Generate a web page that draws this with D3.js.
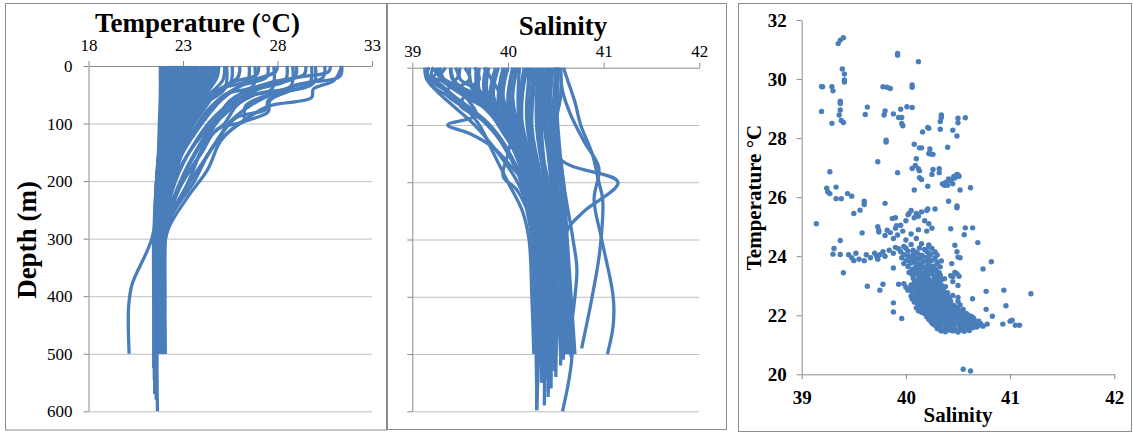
<!DOCTYPE html>
<html>
<head>
<meta charset="utf-8">
<script src="https://cdn.jsdelivr.net/npm/d3@7"></script>
<style>
  body { margin: 0; background: #fff; }
  svg { display: block; }
  svg text { font-family: 'Liberation Serif', 'Times New Roman', serif; }
</style>
</head>
<body>
<svg id="chart"></svg>
<script>
// ---- data ----
const depthTicks = [0, 100, 200, 300, 400, 500, 600];
const tempTicks = [18, 23, 28, 33];
const salTicks = [39, 40, 41, 42];
const tsTempTicks = [20, 22, 24, 26, 28, 30, 32];

// temperature profiles: [depth m, temperature °C]
const tempProfiles = [
  [[0,21.8],[50,21.8],[100,21.75],[150,21.7],[200,21.6],[300,21.55],[400,21.55],[500,21.55]],
  [[0,21.9],[50,21.85],[100,21.8],[150,21.72],[200,21.62],[300,21.55],[400,21.55],[510,21.55]],
  [[0,22.0],[50,21.95],[100,21.85],[150,21.75],[200,21.65],[300,21.6],[400,21.6],[520,21.6]],
  [[0,22.15],[50,22.05],[100,21.9],[150,21.78],[200,21.68],[300,21.6],[400,21.6],[500,21.6]],
  [[0,22.2],[50,22.1],[100,21.95],[150,21.8],[200,21.7],[300,21.65],[400,21.6],[500,21.6]],
  [[0,22.35],[50,22.25],[100,22.05],[150,21.85],[200,21.72],[300,21.62],[400,21.62],[500,21.62]],
  [[0,22.4],[50,22.3],[100,22.1],[150,21.9],[200,21.75],[300,21.7],[400,21.65],[560,21.6]],
  [[0,22.55],[50,22.45],[100,22.2],[150,21.95],[200,21.78],[300,21.68],[400,21.68],[500,21.68]],
  [[0,22.6],[50,22.5],[100,22.2],[150,22.0],[200,21.8],[300,21.7],[400,21.7],[500,21.7]],
  [[0,22.75],[50,22.6],[100,22.3],[150,22.05],[200,21.85],[300,21.72],[400,21.7],[500,21.7]],
  [[0,22.8],[50,22.6],[100,22.35],[150,22.1],[200,21.9],[300,21.75],[400,21.7],[500,21.7]],
  [[0,22.95],[40,22.85],[100,22.45],[150,22.15],[200,21.9],[300,21.75],[400,21.72],[500,21.72]],
  [[0,23.0],[40,22.9],[100,22.5],[150,22.2],[200,21.95],[300,21.8],[400,21.75],[500,21.75]],
  [[0,23.15],[40,23.05],[100,22.55],[150,22.25],[200,21.98],[300,21.78],[400,21.76],[500,21.76]],
  [[0,23.2],[40,23.1],[100,22.6],[150,22.3],[200,22.0],[300,21.8],[400,21.8],[500,21.8]],
  [[0,23.35],[40,23.2],[90,22.85],[140,22.45],[200,22.05],[300,21.82],[400,21.8],[500,21.8]],
  [[0,23.4],[40,23.3],[80,23.0],[120,22.6],[200,22.1],[300,21.85],[400,21.8],[500,21.8]],
  [[0,23.55],[30,23.45],[80,23.05],[130,22.6],[200,22.12],[300,21.88],[400,21.85],[500,21.85]],
  [[0,23.6],[30,23.5],[80,23.1],[130,22.7],[200,22.2],[300,21.9],[400,21.85],[500,21.85]],
  [[0,23.75],[30,23.65],[70,23.25],[120,22.75],[200,22.18],[300,21.9],[400,21.88],[500,21.88]],
  [[0,23.8],[30,23.7],[70,23.3],[120,22.8],[200,22.2],[300,21.9],[400,21.9],[500,21.9]],
  [[0,23.95],[30,23.85],[70,23.4],[120,22.85],[200,22.25],[300,21.95],[400,21.9],[500,21.9]],
  [[0,24.0],[30,23.9],[70,23.4],[120,22.9],[200,22.3],[300,21.95],[400,21.95],[500,21.95]],
  [[0,24.15],[25,24.05],[60,23.5],[110,22.95],[200,22.3],[300,21.98],[400,21.95],[500,21.95]],
  [[0,24.3],[25,24.2],[60,23.6],[110,23.0],[200,22.3],[300,22.0],[400,22.0],[500,22.05]],
  [[0,24.45],[25,24.35],[60,23.7],[110,23.05],[200,22.35],[300,22.0],[400,21.98],[500,21.98]],
  [[0,24.6],[25,24.5],[60,23.8],[110,23.1],[200,22.4],[300,22.0],[400,22.0],[500,22.05]],
  [[0,24.75],[20,24.65],[60,23.9],[120,23.15],[200,22.4],[300,22.0],[400,22.0],[500,22.0]],
  [[0,21.9],[100,21.8],[200,21.65],[300,21.5],[400,21.5],[570,21.5]],
  [[0,22.05],[100,21.85],[200,21.6],[300,21.48],[400,21.48],[545,21.48]],
  [[0,22.1],[100,21.9],[200,21.6],[300,21.45],[400,21.45],[525,21.45]],
  [[0,22.3],[100,22.0],[200,21.6],[300,21.5],[400,21.55],[600,21.65]],
  [[0,22.45],[100,22.1],[200,21.65],[300,21.52],[400,21.52],[580,21.58]],
  [[0,22.5],[100,22.15],[200,21.7],[300,21.55],[400,21.55],[565,21.55]],
  [[0,22.7],[100,22.3],[200,21.8],[300,21.6],[400,21.6],[500,21.6]],
  [[0,22.9],[100,22.4],[200,21.85],[300,21.65],[400,21.65],[500,21.65]],
  [[0,23.1],[100,22.7],[200,22.0],[300,21.75],[400,21.7],[500,21.7]],
  [[0,23.3],[100,22.8],[200,22.05],[300,21.8],[400,21.75],[500,21.75]],
  [[0,23.5],[100,22.9],[200,22.15],[300,21.85],[400,21.8],[500,21.8]],
  [[0,23.7],[100,23.0],[200,22.2],[300,21.9],[400,21.85],[500,21.85]],
  [[0,24.9],[20,24.8],[60,24.0],[120,23.2],[200,22.4],[300,22.0],[400,22.0],[500,22.0]],
  [[0,25.2],[25,25.1],[60,24.1],[120,23.3],[200,22.5],[280,22.1],[400,22.05],[500,22.05]],
  [[0,22.6],[50,22.4],[100,22.1],[200,21.8],[300,21.35],[380,20.3],[420,20.12],[500,20.15]],
  [[0,31.4],[18,31.3],[30,29.5],[45,28.0],[70,26.5],[100,25.4],[130,24.8],[170,24.0],[220,23.0],[280,22.1],[350,21.8],[500,21.75]],
  [[0,31.4],[25,31.0],[40,29.9],[55,29.8],[70,27.5],[100,26.0],[140,24.6],[200,23.6],[260,22.4],[320,21.8],[500,21.7]],
  [[0,30.5],[20,30.4],[35,28.8],[60,27.5],[75,27.4],[90,25.8],[120,25.0],[160,24.2],[210,23.2],[270,22.2],[350,21.8],[500,21.7]],
  [[0,30.0],[30,29.9],[50,27.5],[70,26.3],[95,26.2],[110,24.8],[150,24.0],[200,23.0],[260,22.3],[350,21.9],[500,21.8]],
  [[0,29.5],[15,29.4],[30,27.5],[60,26.0],[100,24.7],[150,23.7],[200,22.9],[260,22.2],[350,21.9],[500,21.8]],
  [[0,29.0],[20,28.9],[40,27.0],[70,25.8],[100,25.2],[120,24.5],[170,23.6],[230,22.5],[300,22.0],[500,21.9]],
  [[0,28.5],[25,28.4],[45,26.5],[80,25.2],[120,24.0],[180,22.8],[250,22.1],[500,21.8]],
  [[0,28.0],[10,27.9],[30,26.3],[60,25.0],[100,24.0],[150,23.0],[200,22.3],[300,21.9],[500,21.8]],
  [[0,27.5],[20,27.4],[35,26.0],[70,24.5],[110,23.6],[160,22.8],[220,22.1],[300,21.8],[500,21.75]],
  [[0,27.0],[15,26.9],[30,25.5],[60,24.3],[110,23.3],[170,22.5],[250,21.9],[500,21.7]],
  [[0,26.5],[25,26.4],[40,25.0],[80,24.0],[130,23.0],[200,22.2],[300,21.8],[500,21.7]],
  [[0,26.0],[20,25.9],[50,24.5],[100,23.5],[150,22.7],[220,22.0],[300,21.8],[500,21.7]],
  [[0,25.6],[30,25.5],[60,24.3],[110,23.3],[180,22.4],[260,21.9],[500,21.7]],
  [[0,30.8],[10,30.7],[20,29.0],[35,27.0],[60,25.5],[90,24.8],[130,24.0],[190,23.0],[260,22.2],[330,21.9],[500,21.8]],
  [[0,29.8],[30,29.7],[45,28.5],[60,27.6],[80,27.5],[100,26.0],[130,25.0],[180,24.3],[230,23.2],[285,22.2],[350,21.9],[500,21.8]],
  [[0,27.8],[40,27.7],[55,26.0],[90,24.6],[140,23.5],[200,22.6],[280,22.0],[500,21.8]],
  [[0,26.8],[35,26.7],[50,25.2],[100,23.8],[160,22.8],[240,22.0],[500,21.7]],
  [[0,25.3],[40,25.2],[70,24.0],[120,23.2],[180,22.4],[260,21.9],[500,21.7]],
  [[0,28.8],[35,28.7],[50,26.8],[90,25.0],[130,24.2],[200,23.3],[260,22.4],[320,21.9],[500,21.8]]
];

// salinity profiles: [depth m, salinity]
const salProfiles = [
  [[0,40.55],[50,40.55],[100,40.5],[200,40.55],[300,40.6],[400,40.65],[500,40.68]],
  [[0,40.53],[100,40.48],[200,40.52],[300,40.58],[400,40.62],[500,40.64]],
  [[0,40.5],[50,40.48],[100,40.45],[200,40.5],[300,40.55],[400,40.6],[500,40.62]],
  [[0,40.47],[100,40.43],[200,40.47],[300,40.52],[400,40.57],[510,40.58]],
  [[0,40.45],[100,40.4],[200,40.45],[300,40.5],[400,40.55],[520,40.55]],
  [[0,40.43],[100,40.45],[200,40.5],[300,40.58],[400,40.64],[505,40.66]],
  [[0,40.4],[100,40.35],[200,40.4],[300,40.45],[400,40.5],[540,40.5]],
  [[0,40.37],[100,40.33],[200,40.4],[300,40.45],[400,40.48],[530,40.48]],
  [[0,40.35],[100,40.3],[200,40.38],[300,40.42],[400,40.45],[560,40.45]],
  [[0,40.3],[100,40.25],[200,40.35],[300,40.4],[400,40.42],[575,40.42]],
  [[0,40.27],[100,40.23],[200,40.33],[300,40.4],[400,40.43],[500,40.43]],
  [[0,40.25],[50,40.2],[100,40.2],[200,40.3],[300,40.38],[400,40.4],[500,40.4]],
  [[0,40.2],[50,40.15],[100,40.15],[200,40.28],[300,40.35],[400,40.38],[590,40.38]],
  [[0,40.17],[60,40.12],[100,40.15],[200,40.3],[300,40.38],[400,40.42],[565,40.42]],
  [[0,40.1],[50,40.05],[100,40.1],[200,40.25],[300,40.33],[400,40.36],[550,40.36]],
  [[0,40.07],[50,40.02],[100,40.08],[200,40.27],[300,40.36],[400,40.4],[500,40.42]],
  [[0,40.0],[50,39.95],[100,40.05],[200,40.22],[300,40.3],[400,40.33],[598,40.3]],
  [[0,39.97],[50,39.92],[100,40.02],[200,40.24],[300,40.34],[400,40.4],[545,40.4]],
  [[0,39.9],[50,39.85],[100,40.0],[200,40.2],[300,40.3],[400,40.35],[520,40.35]],
  [[0,39.87],[50,39.82],[100,39.98],[200,40.23],[300,40.33],[400,40.38],[500,40.38]],
  [[0,39.8],[40,39.78],[100,39.95],[200,40.22],[300,40.32],[400,40.38],[500,40.4]],
  [[0,39.77],[40,39.75],[100,39.93],[200,40.23],[300,40.34],[400,40.4],[500,40.42]],
  [[0,39.7],[40,39.7],[100,39.9],[200,40.25],[300,40.35],[400,40.4],[540,40.42]],
  [[0,39.67],[40,39.68],[100,39.9],[200,40.26],[300,40.37],[400,40.43],[500,40.45]],
  [[0,40.52],[100,40.5],[200,40.58],[300,40.62],[400,40.66],[500,40.7]],
  [[0,40.42],[100,40.38],[200,40.48],[300,40.55],[400,40.58],[500,40.6]],
  [[0,40.32],[100,40.3],[200,40.42],[300,40.48],[400,40.52],[500,40.55]],
  [[0,40.22],[100,40.22],[200,40.35],[300,40.45],[400,40.62],[500,40.67],[600,40.57]],
  [[0,40.12],[100,40.12],[200,40.3],[300,40.42],[400,40.46],[500,40.48]],
  [[0,39.95],[60,39.9],[100,40.0],[200,40.25],[300,40.38],[400,40.44],[500,40.46]],
  [[0,40.05],[60,40.0],[100,40.08],[200,40.3],[300,40.4],[400,40.48],[500,40.5]],
  [[0,39.13],[20,39.15],[40,39.25],[70,39.45],[100,39.65],[150,39.9],[200,40.1],[250,40.22],[300,40.28],[400,40.3],[500,40.3],[598,40.3]],
  [[0,39.15],[30,39.2],[60,39.5],[90,39.75],[130,39.95],[180,40.1],[250,40.2],[300,40.25],[400,40.28],[560,40.3]],
  [[0,39.4],[30,39.45],[60,39.6],[83,39.67],[100,39.37],[115,39.6],[140,39.85],[170,40.02],[220,40.26],[300,40.4],[400,40.45],[500,40.47]],
  [[0,39.25],[20,39.3],[50,39.55],[80,39.85],[120,40.05],[180,40.2],[250,40.3],[300,40.35],[400,40.38],[500,40.4]],
  [[0,39.3],[15,39.28],[40,39.5],[70,39.75],[110,39.95],[160,40.1],[220,40.2],[300,40.3],[400,40.35],[550,40.35]],
  [[0,39.4],[20,39.42],[50,39.65],[90,39.9],[150,40.1],[200,40.2],[300,40.3],[400,40.35],[500,40.38]],
  [[0,39.5],[20,39.5],[40,39.7],[80,39.95],[130,40.15],[200,40.28],[300,40.35],[500,40.4]],
  [[0,39.6],[30,39.62],[60,39.8],[100,40.0],[150,40.15],[200,40.3],[300,40.4],[500,40.45]],
  [[0,39.18],[10,39.15],[30,39.3],[60,39.5],[100,39.7],[150,39.85],[200,40.0],[250,40.15],[300,40.22],[400,40.25],[500,40.27]],
  [[0,39.75],[40,39.9],[100,40.05],[150,40.0],[190,39.95],[215,40.1],[300,40.3],[400,40.38],[500,40.4]],
  [[0,39.2],[10,39.25],[20,39.18],[40,39.35],[70,39.6],[110,39.85],[160,40.05],[220,40.22],[300,40.32],[400,40.36],[500,40.38]],
  [[0,39.22],[15,39.2],[30,39.4],[45,39.35],[70,39.55],[100,39.8],[150,40.0],[220,40.2],[300,40.3],[500,40.36]],
  [[0,39.45],[15,39.48],[30,39.42],[55,39.7],[90,39.88],[140,40.05],[200,40.22],[300,40.35],[500,40.42]],
  [[0,39.65],[20,39.7],[35,39.62],[60,39.85],[100,40.0],[160,40.15],[220,40.28],[300,40.38],[500,40.45]],
  [[0,39.28],[25,39.35],[45,39.55],[65,39.5],[90,39.72],[130,39.93],[190,40.12],[260,40.25],[400,40.33],[500,40.35]],
  [[0,39.35],[15,39.3],[30,39.45],[50,39.7],[80,39.9],[120,40.1],[200,40.3],[300,40.4],[400,40.45],[500,40.48]],
  [[0,39.55],[20,39.6],[35,39.5],[60,39.75],[100,40.05],[160,40.2],[250,40.35],[400,40.42],[500,40.45]],
  [[0,40.5],[50,40.52],[100,40.5],[160,40.55],[200,41.15],[250,40.8],[280,40.63],[300,40.6],[400,40.62],[500,40.65]],
  [[0,40.58],[20,40.62],[60,40.7],[100,40.76],[150,40.88],[200,40.95],[230,40.99],[320,40.96],[400,40.88],[490,40.77]],
  [[0,40.55],[40,40.57],[80,40.65],[130,40.8],[175,40.95],[230,40.9],[300,40.98],[400,41.1],[450,41.1],[500,41.04]],
  [[0,40.5],[100,40.52],[200,40.58],[300,40.68],[350,40.72],[400,40.7],[500,40.62]]
];

// T-S scatter: [salinity, temperature]
const tsPoints = [
  [39.40,31.40],[39.37,31.32],[39.35,31.2],[39.39,30.34],[39.41,30.17],[39.41,29.97],[39.41,29.9],
  [39.2,29.74],[39.19,29.75],[39.29,29.74],[39.30,29.6],[39.19,28.9],[39.37,29.25],[39.37,29.17],
  [39.37,28.95],[39.36,28.78],[39.38,28.6],[39.4,28.53],[39.29,28.5],[39.92,30.87],[39.92,30.81],
  [40.12,30.59],[40.06,29.8],[40.06,29.72],[39.78,29.74],[39.82,29.72],[39.85,29.68],[39.63,29.05],
  [40.01,29.06],[40.06,29.04],[39.8,28.92],[39.79,28.78],[39.61,28.8],[39.88,28.82],[39.95,28.98],
  [39.93,28.7],[39.96,28.7],[39.96,28.5],[39.97,28.42],[39.81,27.93],[39.81,27.87],[40.34,28.78],
  [40.34,28.7],[40.33,28.56],[40.50,28.67],[40.50,28.52],[40.57,28.69],[40.21,28.36],[40.22,28.33],
  [40.16,28.21],[40.45,28.27],[40.33,28.3],[40.49,28.07],[40.08,27.79],[40.13,27.67],[40.15,27.67],
  [40.23,27.63],[40.22,27.48],[40.24,27.46],[40.26,27.45],[40.40,27.69],[40.10,27.3],[39.73,27.2],
  [40.09,27.07],[40.12,26.96],[40.13,26.89],[40.06,26.97],[40.26,26.94],[40.25,26.77],[40.32,26.96],
  [40.32,26.83],[39.92,26.83],[40.13,26.66],[40.15,26.6],[40.21,26.37],[40.08,26.24],[40.49,26.77],
  [40.51,26.71],[40.52,26.24],[40.62,26.32],[40.41,25.86],[40.49,25.7],[40.49,25.64],
  [40.35,26.45],[40.38,26.5],[40.4,26.4],[40.42,26.55],[40.44,26.6],[40.45,26.45],[40.47,26.65],
  [40.48,26.7],[40.5,26.75],[40.46,26.7],[40.41,26.62],[40.37,26.4],
  [39.27,26.86],[39.24,26.3],[39.25,26.18],[39.27,26.12],[39.33,26.34],[39.33,25.95],[39.38,25.95],
  [39.44,26.12],[39.48,26.03],[39.14,25.1],[39.60,25.86],[39.60,25.75],[39.56,25.56],[39.50,25.45],
  [39.8,25.79],[39.58,24.79],[39.37,24.53],[39.30,24.07],[39.31,24.26],[39.37,24.06],[39.40,23.44],
  [39.45,24.05],[39.48,23.95],[39.5,23.85],[39.52,24.1],[39.55,23.9],[39.6,23.85],[39.62,24.05],
  [39.66,23.95],[39.7,24.1],[39.72,24.0],[39.75,24.05],[39.73,23.9],[39.78,24.15],[39.8,24.0],
  [39.84,24.2],[39.88,24.1],[39.9,24.3],[39.88,23.6],
  [39.73,25.0],[39.74,24.88],[39.74,24.82],[39.8,24.7],[39.82,24.88],[39.85,24.8],[39.88,24.6],
  [39.92,24.72],[39.9,24.95],[39.95,25.05],[40.0,25.2],[39.87,25.28],[39.9,25.3],[39.91,25.03],
  [40.0,24.55],[40.1,24.6],[40.05,24.75],[39.97,24.85],[40.12,24.9],[40.2,24.85],[40.25,24.95],
  [40.22,25.1],[40.18,25.2],[40.08,25.3],[40.03,25.45],[40.05,25.55],[40.1,25.45],[40.15,25.5],
  [40.2,25.55],[40.21,25.6],[40.28,25.6],[40.12,25.35],[40.02,25.4],
  [40.43,24.93],[40.57,24.96],[40.64,24.96],[40.56,24.73],[40.69,24.46],[40.47,24.37],[40.49,24.15],
  [40.44,23.75],[40.5,23.97],[40.74,23.57],[40.82,23.81],[40.49,23.41],[40.51,23.32],[40.94,22.85],
  [40.96,22.32],[40.77,22.81],[40.77,22.2],[41.2,22.73],[40.83,21.97],[40.64,22.56],[40.5,23.01],
  [40.5,22.47],[41.0,21.8],[41.02,21.83],[41.05,21.66],[41.09,21.66],[40.93,21.7],[40.74,21.63],
  [40.78,21.7],[40.55,20.17],[40.62,20.11],[39.63,22.98],[39.75,22.85],[39.78,23.05],[39.88,22.42],
  [39.88,22.11],[39.96,21.89],[40.45,23.3],[40.47,23.45],[40.52,23.95],[40.52,22.35],[40.55,22.2],
  [40.6,22.0],[40.65,21.9],[40.7,21.8],[40.72,21.7],[40.68,21.6],[40.5,22.6],
  [40.38,21.44],[40.45,21.47],[40.5,21.43],[40.56,21.46],[40.61,21.48],
  [40.3,21.55],[40.36,21.53],[40.41,21.57],[40.47,21.54],[40.52,21.56],[40.58,21.52],[40.64,21.58],
  [40.28,21.66],[40.33,21.63],[40.4,21.67],[40.45,21.64],[40.51,21.66],[40.56,21.62],[40.62,21.67],[40.69,21.64],
  [40.25,21.75],[40.31,21.77],[40.37,21.73],[40.43,21.76],[40.48,21.74],[40.54,21.78],[40.6,21.73],[40.66,21.76],
  [40.22,21.86],[40.29,21.84],[40.35,21.87],[40.41,21.83],[40.47,21.86],[40.53,21.84],[40.59,21.88],[40.64,21.85],
  [40.2,21.95],[40.27,21.97],[40.33,21.93],[40.39,21.96],[40.45,21.94],[40.51,21.97],[40.57,21.93],[40.63,21.96],
  [40.18,22.05],[40.25,22.03],[40.31,22.07],[40.37,22.04],[40.43,22.06],[40.49,22.03],[40.55,22.07],
  [40.12,22.15],[40.2,22.17],[40.28,22.13],[40.35,22.16],[40.41,22.14],[40.47,22.17],[40.52,22.13],
  [40.1,22.25],[40.17,22.23],[40.25,22.27],[40.32,22.24],[40.38,22.26],[40.44,22.23],[40.5,22.27],
  [40.12,22.35],[40.2,22.33],[40.27,22.37],[40.34,22.34],[40.4,22.36],[40.46,22.33],
  [40.08,22.45],[40.15,22.47],[40.23,22.43],[40.3,22.46],[40.37,22.44],[40.43,22.47],
  [40.06,22.55],[40.12,22.53],[40.2,22.57],[40.28,22.54],[40.35,22.56],[40.42,22.53],
  [40.05,22.65],[40.14,22.67],[40.22,22.63],[40.3,22.66],[40.38,22.64],[40.45,22.67],
  [40.08,22.75],[40.17,22.73],[40.25,22.77],[40.33,22.74],[40.4,22.76],
  [40.02,22.85],[40.1,22.87],[40.2,22.83],[40.28,22.86],[40.36,22.84],
  [40.0,22.95],[40.07,22.97],[40.15,22.93],[40.23,22.96],[40.31,22.94],[40.38,22.97],
  [39.93,23.05],[39.98,23.07],[40.05,23.03],[40.12,23.06],[40.2,23.04],[40.27,23.07],[40.34,23.03],
  [40.1,23.15],[40.18,23.17],[40.25,23.13],[40.32,23.16],[40.45,23.14],
  [40.07,23.25],[40.15,23.27],[40.22,23.23],[40.3,23.26],[40.37,23.24],
  [40.12,23.35],[40.2,23.37],[40.27,23.33],[40.33,23.36],[40.43,23.34],
  [40.03,23.45],[40.1,23.47],[40.18,23.43],[40.25,23.46],[40.32,23.44],
  [40.06,23.55],[40.14,23.57],[40.22,23.53],[40.29,23.56],
  [40.02,23.65],[40.1,23.67],[40.18,23.63],[40.26,23.66],[40.33,23.64],
  [39.98,23.75],[40.05,23.77],[40.13,23.73],[40.22,23.76],[40.3,23.74],
  [40.0,23.85],[40.08,23.87],[40.17,23.83],[40.25,23.86],[40.34,23.84],
  [39.96,23.95],[40.04,23.97],[40.12,23.93],[40.2,23.96],[40.28,23.94],
  [39.98,24.05],[40.07,24.07],[40.15,24.03],[40.24,24.06],[40.3,24.04],
  [39.95,24.15],[40.02,24.17],[40.1,24.13],[40.2,24.16],[40.28,24.14],
  [39.93,24.25],[40.0,24.27],[40.18,24.23],[40.25,24.26],
  [40.05,24.4],[40.15,24.42],[40.22,24.38],
  [40.33,21.5],[40.42,21.5],[40.53,21.5],[40.58,21.58],
  [40.26,21.7],[40.35,21.7],[40.46,21.7],[40.57,21.7],[40.65,21.7],
  [40.24,21.8],[40.33,21.81],[40.44,21.8],[40.5,21.81],[40.57,21.8],[40.62,21.8],
  [40.23,21.9],[40.31,21.9],[40.37,21.91],[40.43,21.9],[40.49,21.91],[40.55,21.9],[40.61,21.91],
  [40.22,22.0],[40.29,22.0],[40.35,22.01],[40.41,22.0],[40.47,22.0],[40.53,22.01],[40.59,22.0],
  [40.15,22.1],[40.23,22.1],[40.3,22.1],[40.39,22.11],[40.46,22.1],[40.51,22.1],
  [40.14,22.2],[40.22,22.2],[40.3,22.2],[40.36,22.2],[40.43,22.21],[40.48,22.2],
  [40.14,22.3],[40.23,22.3],[40.3,22.31],[40.37,22.3],[40.43,22.3],
  [40.11,22.4],[40.19,22.4],[40.27,22.41],[40.33,22.4],[40.4,22.4],
  [40.09,22.5],[40.17,22.5],[40.24,22.51],[40.32,22.5],[40.39,22.5],
  [40.1,22.6],[40.18,22.6],[40.26,22.6],[40.34,22.61],[40.41,22.6],
  [40.12,22.7],[40.21,22.7],[40.29,22.7],[40.36,22.7],
  [40.06,22.8],[40.15,22.8],[40.24,22.8],[40.32,22.8],
  [40.04,22.9],[40.12,22.9],[40.19,22.9],[40.27,22.9],[40.34,22.9],
  [40.08,23.1],[40.16,23.1],[40.23,23.1],[40.3,23.1],
  [40.12,23.2],[40.2,23.2],[40.27,23.2],[40.34,23.2],
  [40.09,23.4],[40.16,23.4],[40.23,23.4],[40.3,23.4],
  [40.1,23.6],[40.18,23.6],[40.25,23.6],
  [40.09,23.8],[40.21,23.8],[40.3,23.8],
  [40.08,24.0],[40.16,24.0],[40.22,24.1],
  [40.34,21.47],[40.47,21.49],[40.43,21.59],[40.54,21.6],[40.6,21.62],[40.66,21.61],[40.39,21.61],
  [40.29,21.72],[40.42,21.71],[40.52,21.7],[40.63,21.73],[40.71,21.72],
  [40.27,21.82],[40.39,21.79],[40.46,21.82],[40.55,21.83],[40.67,21.8],
  [40.25,21.92],[40.35,21.94],[40.42,21.97],[40.48,21.93],[40.54,21.95],[40.6,21.92],
  [40.21,22.08],[40.28,22.02],[40.34,22.08],[40.4,22.03],[40.46,22.08],[40.52,22.04],[40.58,22.06],
  [40.18,22.18],[40.25,22.2],[40.33,22.18],[40.4,22.19],[40.45,22.15],[40.5,22.19],
  [40.16,22.28],[40.21,22.28],[40.28,22.29],[40.35,22.28],[40.41,22.29],[40.47,22.28],
  [40.16,22.38],[40.24,22.39],[40.31,22.38],[40.38,22.42],
  [40.13,22.58],[40.23,22.62],[40.33,22.59],[40.27,22.72],[40.19,22.79],[40.11,22.82],
  [40.24,22.92],[40.17,23.0],[40.09,23.0],[40.28,23.02],[40.14,23.12],[40.21,23.22],[40.28,23.3],
  [40.17,23.32],[40.06,23.38],[40.14,23.5],[40.2,23.48],[40.27,23.52],[40.09,23.62],[40.15,23.7],
  [40.21,23.69],[40.04,23.82],[40.13,23.9],[40.22,23.9],[40.02,24.0],[40.11,24.1],[40.07,24.2],
  [40.13,24.28],[40.22,24.32],[39.98,24.33]
];

// ---- drawing ----
const blue = '#4a7ebb';
const gridColor = '#bfbfbf';
const axisColor = '#8a8a8a';
const serif = 'Liberation Serif, Times New Roman, serif';

const svg = d3.select('#chart').attr('width', 1133).attr('height', 433);
svg.append('rect').attr('width', 1133).attr('height', 433).attr('fill', '#fff');

// chart area borders
const frames = [[5.5, 3.5, 381, 426.5], [387.5, 3.5, 339, 426], [738.5, 3.5, 393, 428]];
svg.selectAll('.frame').data(frames).enter().append('rect')
  .attr('class', 'frame')
  .attr('x', d => d[0]).attr('y', d => d[1])
  .attr('width', d => d[2]).attr('height', d => d[3])
  .attr('fill', 'none').attr('stroke', '#8c8c8c');

function styleAxis(g, size, bold) {
  g.select('.domain').attr('stroke', axisColor);
  g.selectAll('.tick line').attr('stroke', axisColor);
  g.selectAll('.tick text')
    .attr('fill', '#000')
    .style('font-family', serif)
    .style('font-size', size + 'px')
    .style('font-weight', bold ? 'bold' : 'normal');
}

function profilePanel(opts) {
  const { x, y, xTicks, profiles, title, titleX, titleY, labelPad, showDepth } = opts;
  const [x0, x1] = x.range();
  const g = svg.append('g');

  // horizontal gridlines
  g.append('g')
    .attr('transform', `translate(${x0},0)`)
    .call(d3.axisLeft(y).tickValues(depthTicks.slice(1)).tickSize(-(x1 - x0)).tickFormat(''))
    .call(a => a.select('.domain').remove())
    .call(a => a.selectAll('line').attr('stroke', gridColor));

  // depth axis (ticks to the left)
  const ay = g.append('g')
    .attr('transform', `translate(${x0},0)`)
    .call(d3.axisLeft(y).tickValues(depthTicks).tickSize(5).tickSizeOuter(0).tickPadding(11)
      .tickFormat(showDepth ? d3.format('d') : () => ''));
  styleAxis(ay, 17, false);

  // top axis
  const ax = g.append('g')
    .attr('transform', `translate(0,${y(0)})`)
    .call(d3.axisTop(x).tickValues(xTicks).tickSize(5).tickSizeOuter(0).tickPadding(labelPad)
      .tickFormat(d3.format('d')));
  styleAxis(ax, 17, false);

  const line = d3.line()
    .x(d => x(d[1]))
    .y(d => y(d[0]))
    .curve(d3.curveCatmullRom.alpha(0.5));

  g.append('g').selectAll('path').data(profiles).enter().append('path')
    .attr('d', line)
    .attr('fill', 'none')
    .attr('stroke', blue)
    .attr('stroke-width', 3.3)
    .attr('stroke-linejoin', 'round');

  g.append('text')
    .attr('x', titleX).attr('y', titleY)
    .attr('text-anchor', 'middle')
    .style('font-weight', 'bold').style('font-size', '27px')
    .text(title);
}

// Temperature vs depth
const xTemp = d3.scaleLinear().domain([18, 33]).range([88.5, 372]);
const yTemp = d3.scaleLinear().domain([0, 600]).range([66, 411.3]);
profilePanel({ x: xTemp, y: yTemp, xTicks: tempTicks, profiles: tempProfiles,
  title: 'Temperature (°C)', titleX: 197.5, titleY: 32, labelPad: 10, showDepth: true });

svg.append('text')
  .attr('transform', 'translate(35.5,240) rotate(-90)')
  .attr('text-anchor', 'middle')
  .style('font-weight', 'bold').style('font-size', '27px')
  .text('Depth (m)');

// Salinity vs depth
const xSal = d3.scaleLinear().domain([39, 42]).range([412.3, 699.3]);
const ySal = d3.scaleLinear().domain([0, 600]).range([67.7, 411.3]);
profilePanel({ x: xSal, y: ySal, xTicks: salTicks, profiles: salProfiles,
  title: 'Salinity', titleX: 563, titleY: 35, labelPad: 6, showDepth: false });

// T-S scatter
const xs = d3.scaleLinear().domain([39, 42]).range([801.7, 1114.3]);
const ys = d3.scaleLinear().domain([20, 32]).range([374.3, 20]);

const sy = svg.append('g')
  .attr('transform', `translate(${xs(39)},0)`)
  .call(d3.axisLeft(ys).tickValues(tsTempTicks).tickSize(5).tickSizeOuter(0).tickPadding(10)
    .tickFormat(d3.format('d')));
styleAxis(sy, 19, true);

const sx = svg.append('g')
  .attr('transform', `translate(0,${ys(20)})`)
  .call(d3.axisBottom(xs).tickValues(salTicks).tickSize(5).tickSizeOuter(0).tickPadding(11)
    .tickFormat(d3.format('d')));
styleAxis(sx, 19, true);

svg.append('g').selectAll('circle').data(tsPoints).enter().append('circle')
  .attr('cx', d => xs(d[0]))
  .attr('cy', d => ys(d[1]))
  .attr('r', 2.7)
  .attr('fill', blue);

svg.append('text')
  .attr('x', 958).attr('y', 422)
  .attr('text-anchor', 'middle')
  .style('font-weight', 'bold').style('font-size', '21px')
  .text('Salinity');

svg.append('text')
  .attr('transform', 'translate(761,197.5) rotate(-90)')
  .attr('text-anchor', 'middle')
  .style('font-weight', 'bold').style('font-size', '21px')
  .text('Temperature  °C');
</script>
</body>
</html>
